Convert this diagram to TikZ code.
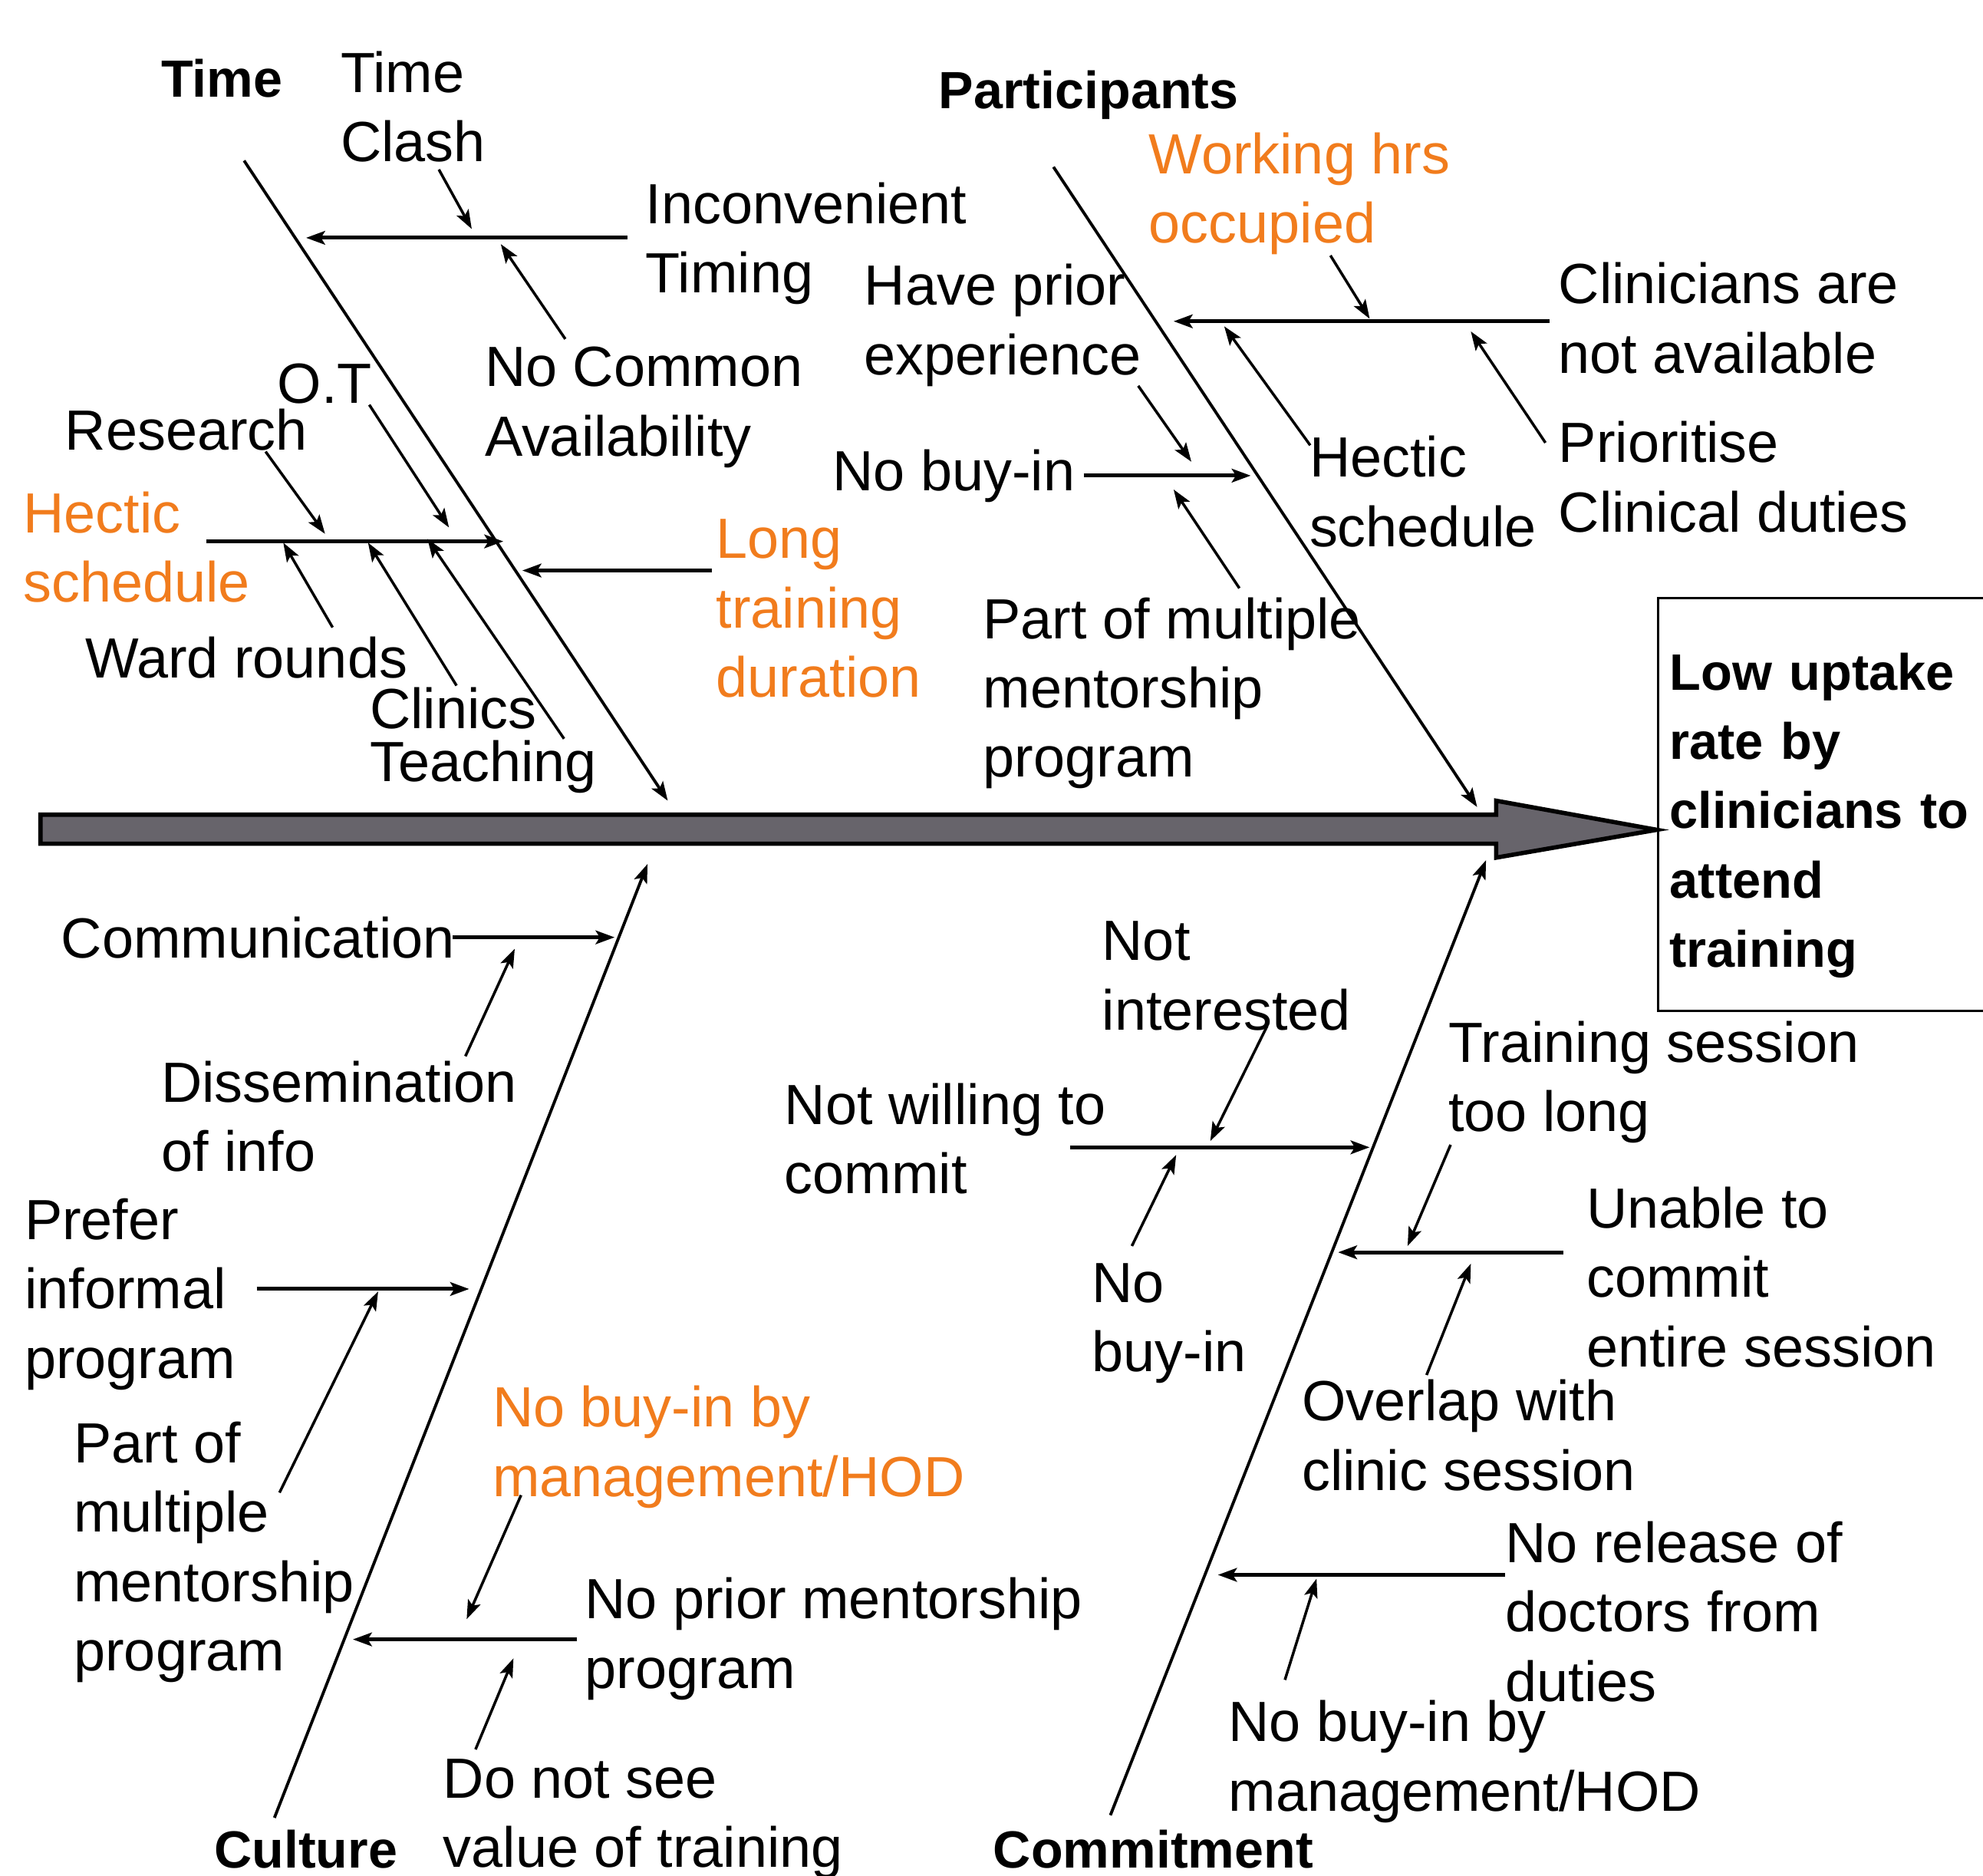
\documentclass[tikz,border=0pt]{standalone}
\usepackage{fontspec}
\setmainfont{Liberation Sans}
\usetikzlibrary{arrows.meta}
\definecolor{fishorange}{RGB}{241,124,29}
\definecolor{spinefill}{RGB}{103,100,107}
\tikzset{
  lbl/.style={anchor=west, inner sep=0pt, align=left, font=\fontsize{21}{25.7}\selectfont, yshift=-0.05cm},
  hot/.style={lbl, text=fishorange},
  cat/.style={anchor=west, inner sep=0pt, font=\fontsize{19.4}{25.7}\selectfont\bfseries},
  arr/.style={line width=1pt, -{Stealth[length=7pt,width=5pt,inset=1.5pt]}},
  branch/.style={line width=1.4pt, -{Stealth[length=7pt,width=5pt,inset=1.5pt]}},
  bone/.style={line width=1.1pt, -{Stealth[length=7pt,width=5pt,inset=1.5pt]}},
}
\begin{document}
\begin{tikzpicture}[x=0.016486cm, y=-0.016486cm]
\useasboundingbox (0,0) rectangle (1568,1483);
\clip (0,0) rectangle (1568,1483);

% ---------- spine ----------
\path[draw=black, fill=spinefill, line width=1.6pt, miter limit=10]
  (32,644) -- (1183,644) -- (1183,633) -- (1310,656) -- (1183,678) -- (1183,667) -- (32,667) -- cycle;

\node[draw, line width=0.8pt, anchor=north west, minimum width=5.11cm, minimum height=5.374cm,
      inner xsep=0.15cm, inner ysep=0pt, text width=4.8cm, align=left,
      font=\fontsize{19}{25.7}\selectfont\bfseries] (effect) at (1310,472)
  {\rule{0pt}{22pt}Low uptake\\rate by\\clinicians to\\attend\\training};

% ---------- coordinates ----------
% Time
\coordinate (tb1) at (193,127);  \coordinate (tb2) at (528,633);
\coordinate (ti1) at (496,188);  \coordinate (ti2) at (242,188);
\coordinate (tc1) at (347,134);  \coordinate (tc2) at (373,181);
\coordinate (tn1) at (447,268);  \coordinate (tn2) at (396,193);
\coordinate (tl1) at (563,451);  \coordinate (tl2) at (413,451);
\coordinate (th1) at (163,428);  \coordinate (th2) at (398,428);
\coordinate (tr1) at (210,357);  \coordinate (tr2) at (257,422);
\coordinate (to1) at (292,320);  \coordinate (to2) at (355,417);
\coordinate (tw1) at (263,496);  \coordinate (tw2) at (224,429);
\coordinate (tk1) at (361,542);  \coordinate (tk2) at (291,429);
\coordinate (tt1) at (446,584);  \coordinate (tt2) at (338,426);
% Participants
\coordinate (pb1) at (833,132);  \coordinate (pb2) at (1168,638);
\coordinate (pc1) at (1225,254); \coordinate (pc2) at (928,254);
\coordinate (pw1) at (1052,202); \coordinate (pw2) at (1083,252);
\coordinate (ph1) at (1036,352); \coordinate (ph2) at (968,258);
\coordinate (pp1) at (1222,350); \coordinate (pp2) at (1163,262);
\coordinate (pn1) at (857,376);  \coordinate (pn2) at (989,376);
\coordinate (pe1) at (900,305);  \coordinate (pe2) at (942,365);
\coordinate (pm1) at (980,465);  \coordinate (pm2) at (928,387);
% Culture
\coordinate (cb1) at (217,1437); \coordinate (cb2) at (512,683);
\coordinate (cc1) at (358,741);  \coordinate (cc2) at (486,741);
\coordinate (cd1) at (368,835);  \coordinate (cd2) at (407,750);
\coordinate (cf1) at (203,1019); \coordinate (cf2) at (371,1019);
\coordinate (cm1) at (221,1180); \coordinate (cm2) at (299,1021);
\coordinate (cy1) at (412,1182); \coordinate (cy2) at (369,1280);
\coordinate (cn1) at (456,1296); \coordinate (cn2) at (279,1296);
\coordinate (cv1) at (376,1383); \coordinate (cv2) at (406,1311);
% Commitment
\coordinate (mb1) at (878,1435); \coordinate (mb2) at (1175,680);
\coordinate (mi1) at (1002,811); \coordinate (mi2) at (957,902);
\coordinate (mw1) at (846,907);  \coordinate (mw2) at (1083,907);
\coordinate (mn1) at (895,985);  \coordinate (mn2) at (930,913);
\coordinate (mt1) at (1147,905); \coordinate (mt2) at (1113,985);
\coordinate (mu1) at (1236,990); \coordinate (mu2) at (1058,990);
\coordinate (mo1) at (1128,1087);\coordinate (mo2) at (1163,999);
\coordinate (mr1) at (1190,1245);\coordinate (mr2) at (963,1245);
\coordinate (mh1) at (1016,1328);\coordinate (mh2) at (1041,1248);

% ---------- Time ----------
\node[cat] (time) at (127,62) {Time};
\node[lbl] (clash) at (269,81.5) {Time\\Clash};
\node[lbl] (inconv) at (510,189.5) {Inconvenient\\Timing};
\node[lbl] (nocommon) at (383,319) {No Common\\Availability};
\node[lbl] (ot) at (219,300) {O.T};
\node[lbl] (research) at (51,337) {Research};
\node[hot] (hectict) at (18,429.5) {Hectic\\schedule};
\node[lbl] (ward) at (67,517) {Ward rounds};
\node[lbl] (clinics) at (292,557) {Clinics};
\node[lbl] (teaching) at (292,603) {Teaching};
\node[hot] (long) at (566,478) {Long\\training\\duration};

\draw[bone] (tb1) -- (tb2);
\draw[branch] (ti1) -- (ti2);
\draw[arr] (tc1) -- (tc2);
\draw[arr] (tn1) -- (tn2);
\draw[branch] (tl1) -- (tl2);
\draw[branch] (th1) -- (th2);
\draw[arr] (tr1) -- (tr2);
\draw[arr] (to1) -- (to2);
\draw[arr] (tw1) -- (tw2);
\draw[arr] (tk1) -- (tk2);
\draw[arr] (tt1) -- (tt2);

% ---------- Participants ----------
\node[cat] (participants) at (742,75) {Participants};
\node[hot] (working) at (908,150) {Working hrs\\occupied};
\node[lbl] (prior) at (683,254) {Have prior\\experience};
\node[lbl] (clinicians) at (1232,248.5) {Clinicians are\\not available};
\node[lbl] (nobuyp) at (658,373) {No buy-in};
\node[lbl] (hecticp) at (1035,385.5) {Hectic\\schedule};
\node[lbl] (prioritise) at (1232,374) {Prioritise\\Clinical duties};
\node[lbl] (partmulti) at (777,545) {Part of multiple\\mentorship\\program};

\draw[bone] (pb1) -- (pb2);
\draw[branch] (pc1) -- (pc2);
\draw[arr] (pw1) -- (pw2);
\draw[arr] (ph1) -- (ph2);
\draw[arr] (pp1) -- (pp2);
\draw[branch] (pn1) -- (pn2);
\draw[arr] (pe1) -- (pe2);
\draw[arr] (pm1) -- (pm2);

% ---------- Culture ----------
\node[lbl] (comm) at (48,738) {Communication};
\node[lbl] (dissem) at (127,879.5) {Dissemination\\of info};
\node[lbl] (prefer) at (19,1020) {Prefer\\informal\\program};
\node[lbl] (partof) at (58,1224) {Part of\\multiple\\mentorship\\program};
\node[hot] (nobuymg) at (389,1141) {No buy-in by\\management/HOD};
\node[lbl] (noprior) at (462,1292.5) {No prior mentorship\\program};
\node[lbl] (donotsee) at (350,1435) {Do not see\\value of training};
\node[cat] (culture) at (169,1462) {Culture};

\draw[bone] (cb1) -- (cb2);
\draw[branch] (cc1) -- (cc2);
\draw[arr] (cd1) -- (cd2);
\draw[branch] (cf1) -- (cf2);
\draw[arr] (cm1) -- (cm2);
\draw[arr] (cy1) -- (cy2);
\draw[branch] (cn1) -- (cn2);
\draw[arr] (cv1) -- (cv2);

% ---------- Commitment ----------
\node[lbl] (notint) at (871,768.5) {Not\\interested};
\node[lbl] (notwill) at (620,897) {Not willing to\\commit};
\node[lbl] (nobuyc) at (863,1043) {No\\buy-in};
\node[lbl] (toolong) at (1145,852.5) {Training session\\too long};
\node[lbl] (unable) at (1254,1006.5) {Unable to\\commit\\entire session};
\node[lbl] (overlap) at (1029,1131.5) {Overlap with\\clinic session};
\node[lbl] (release) at (1190,1271) {No release of\\doctors from\\duties};
\node[lbl] (nobuymc) at (971,1389.5) {No buy-in by\\management/HOD};
\node[cat] (commitment) at (785,1462) {Commitment};

\draw[bone] (mb1) -- (mb2);
\draw[arr] (mi1) -- (mi2);
\draw[branch] (mw1) -- (mw2);
\draw[arr] (mn1) -- (mn2);
\draw[arr] (mt1) -- (mt2);
\draw[branch] (mu1) -- (mu2);
\draw[arr] (mo1) -- (mo2);
\draw[branch] (mr1) -- (mr2);
\draw[arr] (mh1) -- (mh2);
\end{tikzpicture}
\end{document}
